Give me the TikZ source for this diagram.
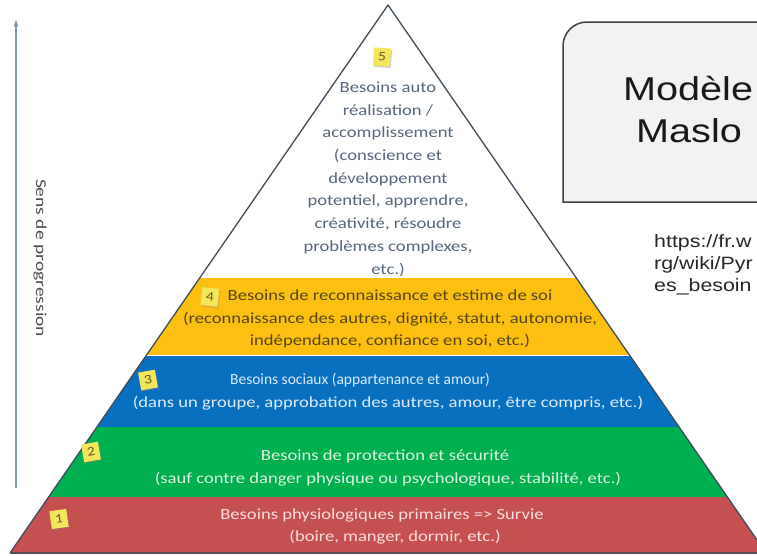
\documentclass[tikz,border=0pt]{standalone}
\usepackage{fontspec}
\setmainfont{Carlito}
\newfontfamily\calf[FakeStretch=1.2]{Carlito}
\newfontfamily\calnarrow{Carlito}
\newfontfamily\arif[FakeStretch=1.2]{Liberation Sans}
\newfontfamily\labf[FakeStretch=1.3]{Carlito}
\usetikzlibrary{arrows.meta,shadows}
\definecolor{bred}{HTML}{C5504F}
\definecolor{bgreen}{HTML}{00AF4F}
\definecolor{bblue}{HTML}{0870C0}
\definecolor{byellow}{HTML}{FDC010}
\definecolor{outl}{HTML}{3F4C5C}
\definecolor{toptxt}{HTML}{56677C}
\definecolor{yeltxt}{HTML}{574516}
\definecolor{bluetxt}{HTML}{DDEBF8}
\definecolor{greentxt}{HTML}{DDF3E0}
\definecolor{redtxt}{HTML}{F8DEDC}
\definecolor{stickyyel}{HTML}{F3E65A}
\definecolor{stickytxt}{HTML}{6A5A20}
\definecolor{boxfill}{HTML}{F2F2F2}
\definecolor{boxline}{HTML}{404040}
\definecolor{arrowc}{HTML}{8497AA}
\begin{document}
\begin{tikzpicture}[x=1pt,y=-1pt,
  bandtxt/.style={font=\calf\fontsize{15.5}{22.5}\selectfont, align=center, inner sep=0pt},
  toptext/.style={font=\calf\fontsize{15.5}{22.7}\selectfont, align=center, inner sep=0pt, text=toptxt},
  sticky/.style={fill=stickyyel, minimum width=17pt, minimum height=18pt, inner sep=0pt, font=\calf\fontsize{13}{13}\selectfont, text=stickytxt,
     drop shadow={opacity=.35, shadow xshift=1pt, shadow yshift=-1.5pt}},
  urltxt/.style={font=\arif\fontsize{17.8}{22}\selectfont, text=black!85, anchor=west, inner sep=0pt},
  titletxt/.style={font=\arif\fontsize{33}{40}\selectfont, text=black!90, anchor=base west, inner sep=0pt}
]
\useasboundingbox (0,0) rectangle (757,555);
\fill[white] (0,0) rectangle (757,555);
\clip (0,0) rectangle (757,555);

% pyramid
\coordinate (A) at (388,5);
\coordinate (L) at (10,553);
\coordinate (R) at (766,553);
\begin{scope}
  \clip (A) -- (L) -- (R) -- cycle;
  \fill[byellow] (0,278) rectangle (800,355);
  \fill[bblue] (0,356) rectangle (800,427);
  \fill[bgreen] (0,427) rectangle (800,497);
  \fill[bred] (0,497) rectangle (800,560);
\end{scope}
\draw[outl, line width=1.3pt, line join=round] (L) -- (A) -- (R);
\draw[outl!80!bred, line width=2pt] (L) -- (R);

% texts
\node[toptext] (t5) at (388,179) {Besoins auto\\réalisation /\\accomplissement\\(conscience et\\développement\\potentiel, apprendre,\\créativité, résoudre\\problèmes complexes,\\etc.)};
\node[bandtxt, text=yeltxt] (t4) at (390,319) {Besoins de reconnaissance et estime de soi\\(reconnaissance des autres, dignité, statut, autonomie,\\indépendance, confiance en soi, etc.)};
\node[bandtxt, text=bluetxt, font=\calnarrow\fontsize{15.5}{22.5}\selectfont] (t3a) at (360,380) {Besoins sociaux (appartenance et amour)};
\node[bandtxt, text=bluetxt] (t3b) at (388,403) {(dans un groupe, approbation des autres, amour, être compris, etc.)};
\node[bandtxt, text=greentxt] (t2a) at (385,456) {Besoins de protection et sécurité};
\node[bandtxt, text=greentxt] (t2b) at (388,479) {(sauf contre danger physique ou psychologique, stabilité, etc.)};
\node[bandtxt, text=redtxt] (t1a) at (382,515) {Besoins physiologiques primaires => Survie};
\node[bandtxt, text=redtxt] (t1b) at (395,537) {(boire, manger, dormir, etc.)};

% sticky notes
\node[sticky, rotate=-4] (s5) at (382,57) {5};
\node[sticky, rotate=-6] (s4) at (210,297) {4};
\node[sticky, rotate=10] (s3) at (148,380) {3};
\node[sticky, rotate=10] (s2) at (91,452) {2};
\node[sticky, rotate=8] (s1) at (59,519) {1};

% progression arrow
\coordinate (pbot) at (16,488);
\coordinate (ptop) at (16,20);
\draw[arrowc, line width=1.2pt, -{Stealth[length=7pt,width=5pt]}] (pbot) -- (ptop);
\node[rotate=-90, font=\labf\fontsize{15}{15}\selectfont, text=black!70, inner sep=0pt] (plab) at (40,258) {Sens de progression};

% title box
\draw[boxline, fill=boxfill, line width=1.5pt] (800,202) -- (563,202) -- (563,46) arc[start angle=180, end angle=270, radius=24] -- (800,22);
\node[titletxt] (title1) at (623,100) {Modèle};
\node[titletxt] (title2) at (636,142) {Maslo};

% url
\node[urltxt] (u1) at (654,243) {https://fr.w};
\node[urltxt] (u2) at (654,265) {rg/wiki/Pyr};
\node[urltxt] (u3) at (654,287) {es\_besoin};
\end{tikzpicture}
\end{document}
